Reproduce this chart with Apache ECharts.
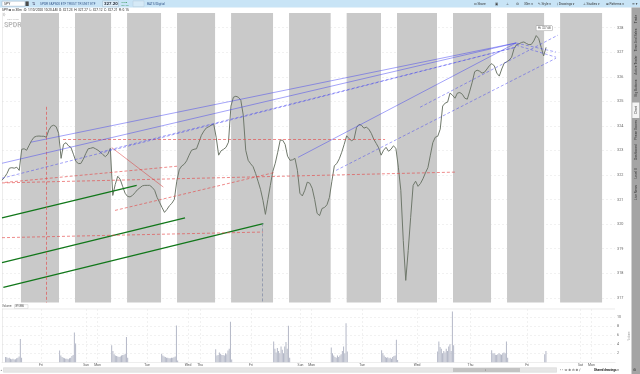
<!DOCTYPE html>
<html><head><meta charset="utf-8">
<script src="https://cdn.jsdelivr.net/npm/echarts@6/dist/echarts.min.js"></script>
<style>html,body{margin:0;padding:0;background:#fff}#c{width:640px;height:374px}</style>
</head><body><div id="c"></div>
<script>
// ---------- data (time axis in 30-minute bars) ----------
const xMax = 498;
const priceStep = 2; // one close every 2 bars
const closes = [
321.79,321.91,322.06,322.28,322.30,322.28,322.32,322.19,323.05,323.07,
323.01,323.21,323.40,323.54,323.58,323.59,323.58,323.58,323.54,323.83,
323.99,324.03,323.97,323.70,322.68,323.25,323.32,323.19,323.13,322.85,
322.56,322.47,322.47,322.64,322.87,323.07,323.09,323.12,323.07,323.01,
322.93,322.83,322.75,322.85,323.09,321.17,321.62,321.95,321.83,321.54,
321.26,321.13,321.11,321.17,321.28,321.40,321.48,321.56,321.58,321.58,
321.58,321.50,321.38,321.09,320.89,320.68,320.48,320.60,320.75,320.85,
321.01,321.75,322.22,322.37,322.44,322.58,322.81,323.01,323.05,323.07,
323.34,323.62,323.79,323.92,323.97,324.03,324.07,323.54,322.81,322.99,
323.05,323.13,323.34,324.81,325.17,325.21,325.17,325.05,324.44,323.01,
322.60,322.46,322.34,322.07,321.75,321.42,320.97,320.40,321.01,321.58,
322.15,322.48,322.93,323.42,323.42,323.25,322.77,322.60,322.62,322.68,
322.19,321.26,321.15,321.38,321.71,321.67,321.46,321.01,320.44,320.35,
320.64,320.68,320.79,321.09,321.75,322.38,322.47,322.66,322.93,323.25,
323.60,323.48,323.40,323.46,323.93,324.06,324.03,323.91,323.95,323.87,
323.70,323.46,323.29,323.11,322.81,323.01,323.13,322.97,323.05,323.19,
323.09,322.32,321.38,319.34,317.71,318.93,320.28,321.58,321.75,321.54,
321.66,321.85,322.09,322.30,322.81,323.32,323.54,323.58,323.87,324.81,
324.93,324.97,325.34,325.25,325.13,325.34,325.36,325.29,325.13,325.09,
325.42,325.78,326.21,326.27,326.23,326.15,326.19,326.32,326.46,326.54,
326.44,326.15,326.03,326.32,326.56,326.61,326.68,326.80,327.15,327.31,
327.34,327.40,327.42,327.36,327.31,327.32,327.46,327.68,327.56,327.21,
326.85,327.20
];
const sessionStarts = [2.4, 46.3, 88.6, 129.2, 173.1, 220.2, 267, 307.9, 353.4, 397.3, 440.4];
const sessionLen = 13;
const shadeEnd = 487.5;
const volumes = [
  [1.2,1.1,0.9,1.0,0.8,0.7,0.8,0.6,0.7,0.9,1.0,1.3,5.2,1.0],
  [2.6,1.5,1.2,1.0,0.9,0.8,0.8,0.7,0.9,1.0,1.4,1.6,6.6,4.2],
  [3.8,2.5,1.8,1.5,1.4,1.3,1.2,1.3,1.5,1.6,1.7,1.9,5.6,1.0],
  [1.9,1.5,1.3,1.2,1.0,1.0,0.9,0.9,1.0,1.0,1.1,1.3,8.2,0.4],
  [2.9,1.5,1.6,2.2,1.9,1.6,1.6,1.5,2.0,1.8,2.6,3.0,9.0,0.6],
  [4.6,3.0,2.2,3.2,2.5,2.0,3.5,2.8,2.0,3.5,4.5,3.0,8.1,1.0],
  [3.3,2.0,1.5,1.2,1.0,1.5,1.2,1.5,1.8,2.5,3.5,2.0,8.7,2.4],
  [2.7,2.0,1.5,1.2,1.0,1.1,0.9,1.0,0.8,1.2,1.4,1.5,5.0,0.5],
  [2.4,4.6,3.4,3.0,2.0,2.5,2.2,3.0,2.5,3.5,4.0,2.5,11.3,3.8],
  [2.7,2.0,2.0,1.7,1.6,1.8,2.0,1.8,1.7,2.0,2.2,2.0,4.6,1.0],
  [1.8,2.5]
];
const dayTicks = [31.7, 68.3, 77.6, 117.8, 151.1, 160.9, 202.3, 242.5, 251.5, 292.5, 337.2, 380.6, 426.6, 470.0, 478.9];
const dayNames = ['Fri','Sun','Mon','Tue','Wed','Thu','Fri','Sun','Mon','Tue','Wed','Thu','Fri','Sat','Mon'];
const priceTicks = [317,318,319,320,321,322,323,324,325,326,327,328];
const volTicks = [2,4,6,8,10];
const yMin = 316.81, yMax = 328.6, volMax = 11.84;

// drawings (trend lines) in [time, price]
const blueSolid = [
  [[0,322.48],[417.6,327.38]],
  [[23.6,323.34],[417.6,327.38]],
  [[240.5,322.72],[417.6,327.38]]
];
const blueDashed = [
  [[0,321.87],[417.6,327.21]],
  [[79.6,322.93],[417.6,327.21]],
  [[271.4,322.19],[450.1,326.76]],
  [[339.6,324.76],[451.7,327.70]],
  [[417.6,327.38],[450.1,327.01]],
  [[417.6,327.29],[450.1,326.80]]
];
const redDashed = [
  [[49.6,323.45],[311.2,323.45]],
  [[0,321.68],[368.1,322.12]],
  [[2.4,321.70],[142.2,322.36]],
  [[91.8,320.56],[221.8,322.11]],
  [[0,319.45],[212.1,319.68]],
  [[36.3,324.78],[36.3,316.81]]
];
const redSolid = [ [[89.1,323.12],[131.1,321.51]] ];
const grayDashed = [ [[211.5,320.03],[211.5,316.81]] ];
const greenLines = [
  [[0,320.26],[109.4,321.58]],
  [[0,318.43],[148.7,320.26]],
  [[1.1,317.43],[212.3,320.02]]
];

// ---------- build ----------
const priceData = closes.map((c,i)=>[i*priceStep, c]);
const lastClose = closes[closes.length-1];
const volData = [];
sessionStarts.forEach((s,i)=>volumes[i].forEach((v,j)=>volData.push([s+j+0.5, v])));
const bands = sessionStarts.map((s,i)=>[s+sessionLen, i<sessionStarts.length-1 ? sessionStarts[i+1] : shadeEnd]);

function seg(list, style){
  return list.map(l=>[{coord:l[0], lineStyle:style}, {coord:l[1]}]);
}
const drawData = [].concat(
  seg(greenLines, {color:'#11771a', width:1.3, type:'solid'}),
  seg(redDashed, {color:'rgba(228,72,72,0.8)', width:0.8, type:[3,2]}),
  seg(redSolid, {color:'rgba(220,60,60,0.85)', width:0.6, type:'solid'}),
  seg(grayDashed, {color:'rgba(120,130,160,0.8)', width:0.8, type:[3,2]}),
  seg(blueSolid, {color:'rgba(70,70,240,0.7)', width:0.7, type:'solid'}),
  seg(blueDashed, {color:'rgba(70,70,240,0.7)', width:0.7, type:[3,2]})
);

const FF = 'Roboto, "DejaVu Sans", sans-serif';
function T(x,y,text,size,fill,extra){
  return Object.assign({type:'text', x:x, y:y, silent:true, style:Object.assign({text:text, fontSize:size, fontFamily:FF, fill:fill||'#333', verticalAlign:'middle'}, extra||{})});
}
function VT(x,y,text){
  return {type:'text', x:x, y:y, rotation:Math.PI/2, silent:true, style:{text:text, fontSize:3.3, fontFamily:FF, fill:'#333', align:'center', verticalAlign:'middle'}};
}
function R(x,y,w,h,fill,stroke){
  return {type:'rect', silent:true, shape:{x:x,y:y,width:w,height:h}, style:{fill:fill, stroke:stroke||null, lineWidth:0.5}};
}

const graphic = [
  R(0,0,640,7.5,'#c8e4f6'),
  R(2,1.2,23,5,'#fff','#9ab0c4'),
  T(4,3.8,'SPY',3.4,'#333'),
  R(25.5,1.4,3.2,4.6,'#4a4a4a'),
  T(32,3.8,'⇅',4,'#446'),
  T(40,3.8,'SPDR S&P500 ETF TRUST TR UNIT ETF',3.2,'#34578a'),
  R(102.5,0.9,16,5.8,'#e3f1fb','#9db8cc'),
  T(104,3.9,'327.20',4.4,'#1d2633',{fontWeight:'bold'}),
  T(121,2.4,'+0.55',2.4,'#1c8a3a'),
  T(121,5.2,'+0.17%',2.4,'#1c8a3a'),
  R(133,0.9,11,5.8,'#d6eaf7','#b5cadb'),
  T(147,3.8,'BATS/Digital',3.2,'#34578a'),
  T(474,3.8,'⊡ Share',3.2,'#333'),
  T(495,3.8,'▣',3.4,'#444'),
  T(506,3.8,'⊥',3.4,'#444'),
  T(516,3.8,'⚙',3.4,'#444'),
  T(524,3.8,'30m ▾',3.2,'#333'),
  T(538,3.8,'✎ Style ▾',3.2,'#333'),
  T(557,3.8,'∕ Drawings ▾',3.2,'#333'),
  T(583,3.8,'⊥ Studies ▾',3.2,'#333'),
  T(606,3.8,'⊞ Patterns ▾',3.2,'#333'),
  T(632,3.8,'≡ ▾',3.4,'#333'),
  T(2,10.2,'SPY ⊠ ⊡ 30m : D: 1/10/2020 10:20 AM  O: 327.23  H: 327.27  L: 327.12  C: 327.21  R: 0.15',3.2,'#222'),
  T(3,15.5,'{}',3.6,'#999'),
  T(7,20,'STATE STREET',1.8,'#bbb'),
  T(4,25.5,'SPDRs',7,'#b9b9b9',{fontWeight:'bold'}),
  // volume header
  {type:'line', silent:true, shape:{x1:2,y1:309,x2:615,y2:309}, style:{stroke:'#dcdcdc', lineWidth:0.6}},
  T(2,306.5,'Volume',2.8,'#555'),
  R(14.5,304.6,13.5,3.8,'#fff','#ccc'),
  T(15.5,306.5,'89.886',2.8,'#555'),
  {type:'text', x:629, y:336, rotation:Math.PI/2, silent:true, style:{text:'Volume', fontSize:2.6, fontFamily:FF, fill:'#999', align:'center', verticalAlign:'middle'}},
  // right sidebar
  R(631.5,7.5,8.5,367,'#a4a4a4'),
  R(632.3,102.5,7,15.5,'#f4f4f4'),
  VT(636,19,'Trade'), VT(636,40,'Time And Sales'), VT(636,65,'Active Trader'),
  VT(636,88,'Big Buttons'), VT(636,110,'Chart'), VT(636,130,'Phase Scores'),
  VT(636,152,'Dashboard'), VT(636,173.5,'Level II'), VT(636,192.5,'Live News'),
  // scrollbar
  T(0.5,370,'◂',2.6,'#777'),
  R(3.5,367.7,553,4.6,'#e6e6e6','#d2d2d2'),
  R(453,368.1,67,3.8,'#c3c3c3'),
  T(485,370,'⦀',2.4,'#777'),
  T(560,370,'‹ ›  ⇔ ⊕ ⊖ ⊕ ∕',3.4,'#333'),
  T(594,370,'Shared drawings ▾',3,'#222',{fontWeight:'bold'}),
  T(633,370,'⚙',3.6,'#333')
];

const chart = echarts.init(document.getElementById('c'), null, {renderer:'canvas'});
chart.setOption({
  animation:false,
  backgroundColor:'#fff',
  grid:[
    {left:2, right:25, top:13, bottom:71.5},
    {left:2, right:25, top:309, bottom:11.7}
  ],
  xAxis:[
    {gridIndex:0, type:'value', min:0, max:xMax, axisLine:{show:false}, axisTick:{show:false}, axisLabel:{show:false}, splitLine:{show:false}},
    {gridIndex:1, type:'value', min:0, max:xMax,
     axisLine:{show:true, lineStyle:{color:'#dcdcdc', width:0.5}},
     axisTick:{show:false, customValues:dayTicks},
     axisLabel:{customValues:dayTicks, formatter:v=>dayNames[dayTicks.indexOf(v)], fontSize:3.4, color:'#555', margin:1.5, fontFamily:FF},
     splitLine:{show:true, lineStyle:{color:'#e3e3e3', type:[2,2], width:0.5}}}
  ],
  yAxis:[
    {gridIndex:0, type:'value', position:'right', min:yMin, max:yMax,
     axisLine:{show:true, lineStyle:{color:'#d8d8d8', width:0.5}},
     axisTick:{show:false, customValues:priceTicks},
     axisLabel:{customValues:priceTicks, fontSize:3.8, color:'#666', margin:2, fontFamily:FF},
     splitLine:{show:true, lineStyle:{color:'#e2e2e2', type:[2,2], width:0.5}}},
    {gridIndex:1, type:'value', position:'right', min:0, max:volMax,
     axisLine:{show:true, lineStyle:{color:'#d8d8d8', width:0.5}},
     axisTick:{show:false, customValues:volTicks},
     axisLabel:{customValues:volTicks, fontSize:3.6, color:'#666', margin:2, fontFamily:FF},
     splitLine:{show:true, lineStyle:{color:'#e3e3e3', type:[2,2], width:0.5}}}
  ],
  series:[
    {type:'line', xAxisIndex:0, yAxisIndex:0, data:[[0,yMin]], showSymbol:false, symbol:'none', lineStyle:{opacity:0}, silent:true, z:1,
     markArea:{silent:true, z:1, itemStyle:{color:'#c9c9c9'}, data:bands.map(b=>[{xAxis:b[0]},{xAxis:b[1]}])}},
    {type:'line', xAxisIndex:0, yAxisIndex:0, data:priceData, symbol:'none', z:3, silent:true,
     lineStyle:{color:'#6f786b', width:1},
     markPoint:{symbol:'rect', symbolSize:0.1, silent:true, data:[{type:'max'}],
       label:{show:true, position:'top', distance:5, offset:[8,0], formatter:p=>'Hi: '+p.value.toFixed(2), fontSize:2.8, color:'#444', backgroundColor:'#fff', borderColor:'#999', borderWidth:0.5, padding:[0.8,1.5], fontFamily:FF}},
     markLine:{symbol:'none', silent:true, data:[{yAxis:lastClose}], lineStyle:{opacity:0},
       label:{position:'end', distance:1, formatter:lastClose.toFixed(2), backgroundColor:'#a31c1c', color:'#fff', fontSize:3.3, padding:[0.8,1.5], fontFamily:FF}}},
    {type:'line', xAxisIndex:0, yAxisIndex:0, data:[[0,yMin]], showSymbol:false, symbol:'none', lineStyle:{opacity:0}, silent:true, z:4,
     markLine:{symbol:['none','none'], silent:true, label:{show:false}, data:drawData}},
    {type:'bar', xAxisIndex:1, yAxisIndex:1, data:volData, barWidth:1, silent:true,
     itemStyle:{color:'#b4b8c7'}}
  ],
  graphic:graphic
});
</script></body></html>
